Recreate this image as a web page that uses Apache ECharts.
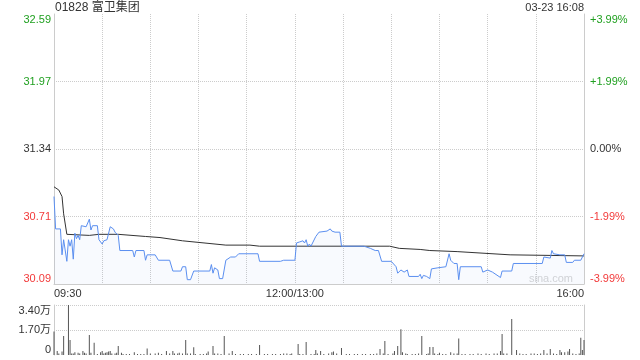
<!DOCTYPE html>
<html><head><meta charset="utf-8">
<script src="https://cdn.jsdelivr.net/npm/echarts@6/dist/echarts.min.js"></script>
<style>html,body{margin:0;padding:0;background:#fff}#c{width:640px;height:360px}</style>
</head><body><div id="c"></div>
<script>
// ---------- data ----------
const chartTitle = '01828 富卫集团';
const timeStamp = '03-23 16:08';
const watermark = 'sina.com';
const priceMin = 30.09, priceMax = 32.59, priceStep = 0.625;
const priceTickLabels = ['30.09', '30.71', '31.34', '31.97', '32.59'];
const pctTickLabels = ['-3.99%', '-1.99%', '0.00%', '+1.99%', '+3.99%'];
const timeTickLabels = { 0: '09:30', 150: '12:00/13:00', 330: '16:00' };
const volTickLabels = ['0', '1.70万', '3.40万'];
const volMax = 34000;

// trading minutes since 09:30 (lunch break removed) and last price
const priceMinute = [
  0,1,4,5,6,7,8,9,10,11,
  12,13,14,15,16,17,20,21,22,23,
  24,25,27,28,30,31,33,35,37,38,
  40,41,49,50,51,56,57,58,63,65,
  72,74,79,80,82,83,85,87,97,98,
  99,100,102,103,105,107,110,113,115,127,
  128,141,143,150,151,153,155,156,157,158,
  159,160,161,163,165,170,172,173,175,178,
  179,193,197,200,202,204,210,213,214,216,
  218,220,221,227,228,229,230,232,234,235,
  239,240,244,246,247,249,251,252,253,266,
  267,270,273,278,279,285,286,304,305,309,
  310,311,312,315,318,319,323,324,328,330
];
const priceValue = [
  30.90,30.60,30.60,30.36,30.50,30.50,30.30,30.50,30.44,30.50,
  30.32,30.56,30.51,30.54,30.50,30.63,30.62,30.61,30.69,30.59,
  30.63,30.63,30.63,30.50,30.46,30.49,30.50,30.62,30.60,30.57,
  30.54,30.40,30.40,30.34,30.40,30.40,30.31,30.36,30.36,30.31,
  30.31,30.21,30.21,30.25,30.25,30.13,30.13,30.21,30.21,30.27,
  30.19,30.24,30.22,30.14,30.14,30.31,30.34,30.34,30.37,30.37,
  30.30,30.30,30.31,30.31,30.47,30.48,30.49,30.47,30.50,30.44,
  30.46,30.44,30.45,30.53,30.57,30.58,30.60,30.58,30.57,30.57,
  30.44,30.44,30.42,30.40,30.40,30.30,30.30,30.25,30.19,30.22,
  30.20,30.22,30.16,30.16,30.18,30.14,30.17,30.16,30.14,30.23,
  30.24,30.25,30.25,30.37,30.31,30.28,30.28,30.13,30.25,30.25,
  30.20,30.22,30.20,30.15,30.21,30.21,30.28,30.28,30.34,30.33,
  30.40,30.37,30.38,30.36,30.36,30.29,30.29,30.31,30.31,30.37
];

// average price line
const avgMinute = [0,3,5,6,7,8,22,28,40,57,66,80,107,122,128,209,215,228,234,251,284,330];
const avgValue  = [30.99,30.96,30.90,30.74,30.73,30.55,30.54,30.55,30.55,30.53,30.52,30.49,30.45,30.45,30.44,30.44,30.42,30.41,30.40,30.39,30.36,30.35];

// volume (shares)
const volMinute = [
  0,2,3,5,6,9,10,11,12,13,
  15,16,18,19,20,22,23,25,27,29,
  30,31,32,33,34,35,36,38,39,40,
  42,43,45,47,50,52,54,56,58,60,
  63,65,67,70,72,74,75,77,78,80,
  82,83,85,87,88,91,93,95,96,99,
  100,102,104,106,109,111,113,116,118,121,
  123,126,128,131,133,136,138,141,143,145,
  147,148,152,153,155,157,160,162,163,164,
  166,168,171,173,174,176,179,182,184,187,
  189,192,194,197,199,201,203,205,206,208,
  211,212,214,216,217,219,220,223,225,227,
  229,232,233,234,236,237,239,240,242,244,
  247,249,251,252,254,256,259,261,264,266,
  269,271,274,276,278,279,280,282,285,288,
  290,292,294,297,299,301,303,305,307,309,
  311,313,315,316,318,320,321,323,325,327,
  328,329,330
];
const volValue = [
  15900,2700,1100,2300,12900,34000,10200,1100,1100,1800,
  1500,1100,2700,1500,1100,13600,1500,8400,700,1800,
  2700,1100,1500,1800,2300,2700,1100,1100,1500,6100,
  1500,700,700,700,1800,700,700,700,4500,1100,
  1100,1500,700,2700,1100,2700,1100,1100,1500,1100,
  10200,1100,1100,5200,700,700,700,1100,2300,6100,
  1100,1100,700,12900,1100,2700,700,700,700,700,
  700,700,6800,700,700,700,700,700,1100,1100,
  700,1100,7500,700,700,8800,700,700,3400,1100,
  2700,700,1100,1800,2300,1100,4800,700,700,700,
  700,700,700,700,700,1100,4100,1100,9500,700,
  1100,2700,6100,17500,1800,1100,700,700,700,1100,
  12900,700,1100,5400,5400,1100,700,1500,700,700,
  1800,1100,1100,11300,700,700,700,700,1100,700,
  1100,700,1100,1100,2700,14300,1100,1100,24500,3400,
  1100,700,700,1100,1100,700,1100,3400,1100,4100,
  1100,700,3400,1800,1800,2300,4100,1100,700,1100,
  11800,3400,10200
];

// ---------- chart ----------
const FONT = 'Arial, "Liberation Sans", "Noto Sans CJK SC", sans-serif';
const GREEN = '#20a020', RED = '#f23a3a', DARK = '#333';
const tickColors = [RED, RED, DARK, GREEN, GREEN];
const tickIdx = v => Math.round((parseFloat(v) - priceMin) / priceStep);
const pricePairs = priceMinute.map((m, i) => [m, priceValue[i]]);
const avgPairs = avgMinute.map((m, i) => [m, avgValue[i]]);
const volPairs = volMinute.map((m, i) => [m, volValue[i]]);

const dotted = { show: true, showMinLine: false, showMaxLine: false, lineStyle: { color: '#ccc', type: 'dotted', width: 1 } };
const axisLineStyle = { show: true, lineStyle: { color: '#ccc', width: 1 } };

const chart = echarts.init(document.getElementById('c'), null, { renderer: 'canvas' });
chart.setOption({
  animation: false,
  backgroundColor: '#fff',
  textStyle: { fontFamily: FONT },
  grid: [
    { left: 54, right: 56, top: 14, height: 270 },
    { left: 54, right: 56, top: 305, height: 50 }
  ],
  xAxis: [
    { gridIndex: 0, type: 'value', min: 0, max: 330, interval: 30,
      axisLine: axisLineStyle, axisTick: { show: false },
      axisLabel: { margin: 4, fontSize: 11, fontFamily: FONT, color: DARK,
        formatter: v => timeTickLabels[v] || '', alignMinLabel: 'left', alignMaxLabel: 'right' },
      splitLine: dotted },
    { gridIndex: 1, type: 'value', min: 0, max: 330,
      axisLine: { show: false }, axisTick: { show: false }, axisLabel: { show: false }, splitLine: { show: false } }
  ],
  yAxis: [
    { gridIndex: 0, type: 'value', position: 'left', min: priceMin, max: priceMax, interval: priceStep,
      axisLine: axisLineStyle, axisTick: { show: false },
      axisLabel: { margin: 3, fontSize: 11, fontFamily: FONT,
        color: v => tickColors[tickIdx(v)],
        formatter: v => priceTickLabels[tickIdx(v)],
        verticalAlignMinLabel: 'bottom', verticalAlignMaxLabel: 'top' },
      splitLine: dotted },
    { gridIndex: 0, type: 'value', position: 'right', min: priceMin, max: priceMax, interval: priceStep,
      axisLine: axisLineStyle, axisTick: { show: false },
      axisLabel: { margin: 6, fontSize: 11, fontFamily: FONT,
        color: v => tickColors[tickIdx(v)],
        formatter: v => pctTickLabels[tickIdx(v)],
        verticalAlignMinLabel: 'bottom', verticalAlignMaxLabel: 'top' },
      splitLine: { show: false } },
    { gridIndex: 1, type: 'value', position: 'left', min: 0, max: volMax, interval: volMax / 2,
      axisLine: axisLineStyle, axisTick: { show: false },
      axisLabel: { margin: 3, fontSize: 11, fontFamily: FONT, color: DARK,
        formatter: v => volTickLabels[Math.round(v / (volMax / 2))],
        verticalAlignMinLabel: 'bottom', verticalAlignMaxLabel: 'top' },
      splitLine: { show: true, showMinLine: false, lineStyle: { color: '#ccc', type: 'dotted', width: 1 } } },
    { gridIndex: 1, type: 'value', position: 'right', min: 0, max: volMax, interval: volMax / 2,
      axisLine: axisLineStyle, axisTick: { show: false }, axisLabel: { show: false }, splitLine: { show: false } }
  ],
  series: [
    { type: 'line', xAxisIndex: 0, yAxisIndex: 0, data: avgPairs, showSymbol: false, symbol: 'none',
      lineStyle: { color: '#333', width: 1 }, z: 3, silent: true },
    { type: 'line', xAxisIndex: 0, yAxisIndex: 0, data: pricePairs, showSymbol: false, symbol: 'none',
      lineStyle: { color: '#5b8ff0', width: 1 },
      areaStyle: { color: 'rgba(91,143,240,0.06)', origin: 'start' }, z: 4, silent: true },
    { type: 'bar', xAxisIndex: 1, yAxisIndex: 2, data: volPairs, barWidth: 1,
      itemStyle: { color: '#555' }, silent: true }
  ],
  graphic: [
    { type: 'text', x: 55, y: 8, silent: true,
      style: { text: chartTitle, font: '12px ' + FONT, fill: DARK, align: 'left', verticalAlign: 'middle' } },
    { type: 'text', x: 584, y: 8, silent: true,
      style: { text: timeStamp, font: '11px ' + FONT, fill: DARK, align: 'right', verticalAlign: 'middle' } },
    { type: 'text', x: 573, y: 279, silent: true,
      style: { text: watermark, font: '11px ' + FONT, fill: '#d6d6d6', align: 'right', verticalAlign: 'middle' } }
  ]
});
</script>
</body></html>
